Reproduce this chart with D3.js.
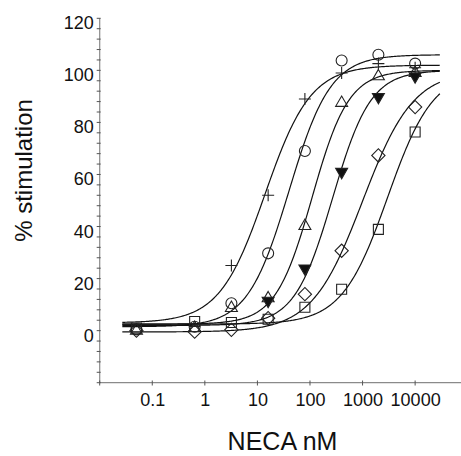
<!DOCTYPE html>
<html>
<head>
<meta charset="utf-8">
<script src="https://cdn.jsdelivr.net/npm/d3@7"></script>
<style>
  body { margin: 0; background: #fff; }
  svg { display: block; font-family: "Liberation Sans", Arial, sans-serif; }
</style>
</head>
<body>
<svg id="chart" width="461" height="456"></svg>
<script>
// NECA concentrations (nM)
const concs = [0.05, 0.64, 3.2, 16, 80, 400, 2000, 10000];

// % stimulation for each receptor/condition (null = no point)
const plusVals     = [null, null, 25, 52, 89, 99, 102.6, 101];
const circleVals   = [0.5, 1.5, 10.5, 29.7, 69, 103.8, 106, 102.6];
const triUpVals    = [0, 1, 8.7, 12.4, 40.2, 87.5, 97.7, 99];
const triDownVals  = [null, null, null, 11.5, 23.9, 61, 89.8, 97.7];
const diamondVals  = [0, -0.4, 0.3, 4.8, 14, 30.7, 67.3, 85.9];
const squareVals   = [1, 3.5, 3.1, 4.4, 9, 15.9, 38.9, 76.3];

// fitted dose-response curve parameters, same order as the series
const fitBottom = [3, 1.5, 2.5, 2, -0.5, 2.5];
const fitTop    = [102, 106, 100, 100, 100, 100];
const fitEC50   = [14, 40, 110, 270, 1000, 3000];
const fitHill   = [1.0, 1.1, 1.25, 1.2, 0.9, 1.0];

// tick labels
const xTicks = [0.1, 1, 10, 100, 1000, 10000];
const yLabels = [0, 20, 40, 60, 80, 100, 120];

const seriesVals = [plusVals, circleVals, triUpVals, triDownVals, diamondVals, squareVals];
const seriesShape = ["plus", "circle", "triUp", "triDown", "diamond", "square"];

const svg = d3.select("#chart");

const x = d3.scaleLog().domain([0.01, 100000]).range([99.7, 467.7]);
const y = d3.scaleLinear().domain([-20, 120]).range([382.7, 18.3]);

//Axes
const xAxis = d3.axisBottom(x).tickValues(xTicks).tickFormat(d3.format("")).tickSize(0);
const gx = svg.append("g").attr("transform", "translate(0,382.7)").call(xAxis);
gx.select(".domain").remove();
gx.selectAll("text").attr("y", 0).attr("dy", 23.3).style("font-size", "18px").attr("fill", "#111");

const gy = svg.append("g").attr("transform", "translate(99.7,0)")
  .call(d3.axisLeft(y).tickValues(yLabels).tickSize(0).tickFormat(d3.format("")));
gy.select(".domain").remove();
gy.selectAll("text").attr("x", -6).attr("dy", 10.5).style("font-size", "18px").attr("fill", "#111");

// axis lines
svg.append("line").attr("x1", 99.7).attr("x2", 461).attr("y1", 382.7).attr("y2", 382.7)
  .attr("stroke", "#8a8a8a").attr("stroke-width", 1.2);
svg.append("line").attr("x1", 99.7).attr("x2", 99.7).attr("y1", 18.3).attr("y2", 382.7)
  .attr("stroke", "#8a8a8a").attr("stroke-width", 1.2);

// y minor ticks every 4%
svg.selectAll(".ytick").data(d3.range(-20, 121, 4)).enter().append("line")
  .attr("x1", 96.7).attr("x2", 100.7)
  .attr("y1", d => y(d)).attr("y2", d => y(d))
  .attr("stroke", "#555").attr("stroke-width", 1);

// x ticks at decades
svg.selectAll(".xtick").data([0.01].concat(xTicks)).enter().append("line")
  .attr("x1", d => x(d)).attr("x2", d => x(d))
  .attr("y1", 380.5).attr("y2", 385.5)
  .attr("stroke", "#555").attr("stroke-width", 1);

// axis titles
svg.append("text").attr("x", 282.5).attr("y", 450).attr("text-anchor", "middle")
  .style("font-size", "25px").attr("fill", "#111").text("NECA nM");
svg.append("text").attr("transform", "translate(32,170.5) rotate(-90)").attr("text-anchor", "middle")
  .style("font-size", "24px").attr("fill", "#111").text("% stimulation");

// fitted curves
const curveX = d3.range(-1.57, 4.48, 0.02).map(e => Math.pow(10, e));
const line = d3.line().x(d => x(d[0])).y(d => y(d[1])).curve(d3.curveLinear);
seriesVals.forEach((vals, i) => {
  const pts = curveX.map(c => [c, fitBottom[i] + (fitTop[i] - fitBottom[i]) / (1 + Math.pow(fitEC50[i] / c, fitHill[i]))]);
  svg.append("path").datum(pts).attr("d", line)
    .attr("fill", "none").attr("stroke", "#111").attr("stroke-width", 1.2);
});

// markers
function markerPath(shape) {
  if (shape === "plus") return "M-6,0H6M0,-6V6";
  if (shape === "circle") return d3.symbol(d3.symbolCircle, 95)();
  if (shape === "triUp" || shape === "triDown") return d3.symbol(d3.symbolTriangle, 62)();
  if (shape === "diamond") return d3.symbol(d3.symbolSquare, 88)();
  return d3.symbol(d3.symbolSquare, 100)();
}
seriesVals.forEach((vals, i) => {
  const shape = seriesShape[i];
  const pts = concs.map((c, j) => [c, vals[j]]).filter(d => d[1] !== null);
  svg.selectAll(".m" + i).data(pts).enter().append("path")
    .attr("d", markerPath(shape))
    .attr("transform", d => {
      let t = `translate(${x(d[0])},${y(d[1])})`;
      if (shape === "triDown") t += " rotate(180)";
      if (shape === "diamond") t += " rotate(45)";
      return t;
    })
    .attr("fill", shape === "triDown" ? "#111" : "none")
    .attr("stroke", "#222").attr("stroke-width", 1.1);
});
</script>
</body>
</html>
